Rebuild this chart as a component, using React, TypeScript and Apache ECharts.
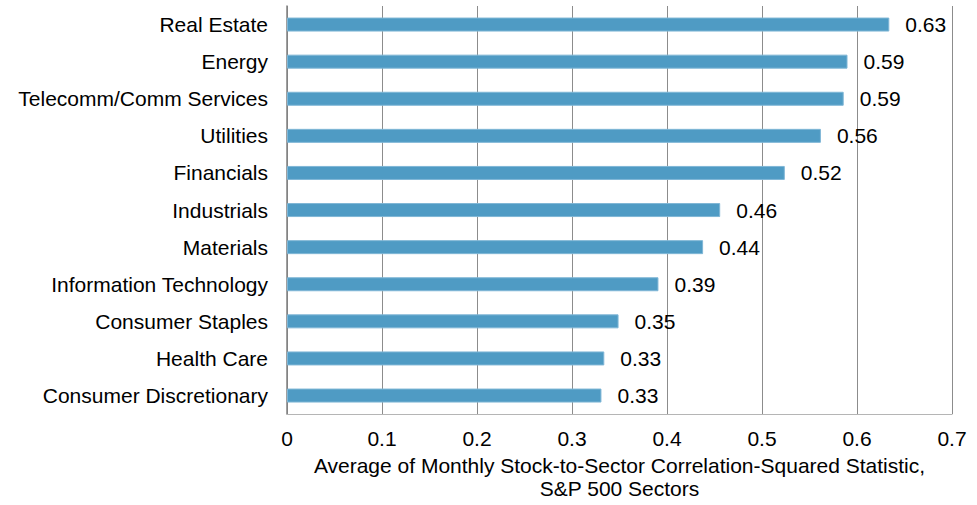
import React, { useEffect, useRef } from "react";
import * as echarts from "echarts";

// Sectors listed bottom-to-top (ECharts category axes grow upward)
const sectors = [
  "Consumer Discretionary",
  "Health Care",
  "Consumer Staples",
  "Information Technology",
  "Materials",
  "Industrials",
  "Financials",
  "Utilities",
  "Telecomm/Comm Services",
  "Energy",
  "Real Estate",
];

const correlationSquared = [
  0.331, 0.334, 0.349, 0.391, 0.438, 0.456, 0.524, 0.562, 0.586, 0.59, 0.634,
];

const xTicks = { min: 0, max: 0.7, interval: 0.1 };

const axisTitle =
  "Average of Monthly Stock-to-Sector Correlation-Squared Statistic,\nS&P 500 Sectors";

const FONT = "'Liberation Sans', Arial, sans-serif";

export default function App() {
  const ref = useRef<HTMLDivElement>(null);

  useEffect(() => {
    if (!ref.current) return;
    const chart = echarts.init(ref.current, null, { renderer: "svg" });
    chart.setOption({
      animation: false,
      backgroundColor: "#ffffff",
      textStyle: { fontFamily: FONT },
      grid: { left: 287, right: 25, top: 6, bottom: 80, containLabel: false },
      xAxis: {
        type: "value",
        min: xTicks.min,
        max: xTicks.max,
        interval: xTicks.interval,
        axisLine: { show: true, lineStyle: { color: "#b5b5b5", width: 1 } },
        axisTick: { show: false },
        splitLine: { show: true, lineStyle: { color: "#8c8c8c", width: 1 } },
        axisLabel: {
          color: "#000",
          fontSize: 21,
          fontFamily: FONT,
          margin: 14,
          formatter: (v: number) => (v === 0 ? "0" : String(+v.toFixed(1))),
        },
        name: axisTitle,
        nameLocation: "middle",
        nameGap: 34,
        nameTextStyle: {
          color: "#000",
          fontSize: 21,
          fontFamily: FONT,
          lineHeight: 23,
          align: "center",
        },
      },
      yAxis: {
        type: "category",
        data: sectors,
        axisLine: { show: true, lineStyle: { color: "#808080", width: 1.5 } },
        axisTick: { show: false },
        splitLine: { show: false },
        axisLabel: {
          color: "#000",
          fontSize: 21,
          fontFamily: FONT,
          margin: 19,
        },
      },
      series: [
        {
          type: "bar",
          data: correlationSquared,
          barWidth: 14,
          itemStyle: {
            color: "#4f9bc4",
            borderColor: "#7fb6d6",
            borderWidth: 1,
          },
          label: {
            show: true,
            position: "right",
            distance: 16,
            color: "#000",
            fontSize: 21,
            fontFamily: FONT,
            formatter: (p: any) => Number(p.value).toFixed(2),
          },
        },
      ],
    });
    return () => chart.dispose();
  }, []);

  return (
    <div
      ref={ref}
      style={{ position: "fixed", left: 0, top: 0, width: 977, height: 505 }}
    />
  );
}
